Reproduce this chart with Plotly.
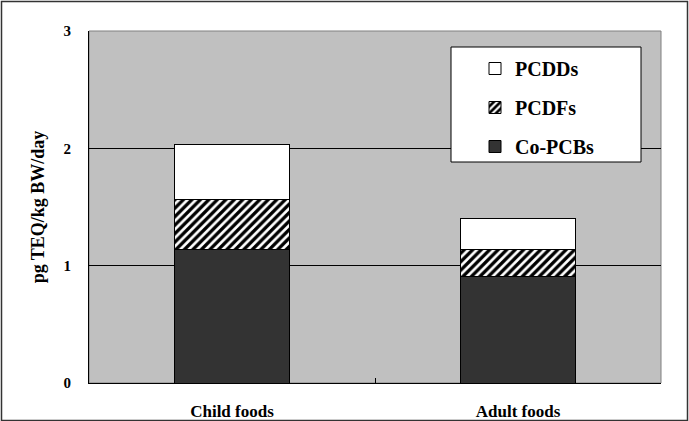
import plotly.graph_objects as go

categories = ["Child foods", "Adult foods"]
co_pcbs = [1.14, 0.91]
pcdfs = [0.42, 0.23]
pcdds = [0.47, 0.26]
y_ticks = [0, 1, 2, 3]

FONT = "Liberation Serif"
L, R, T, B = 89, 28, 31, 38
W, H = 689, 421
PW, PH = W - L - R, H - T - B

def px_x(p):
    return (p - L) / PW

def px_y(p):
    return (H - B - p) / PH

fig = go.Figure()
fig.add_trace(go.Bar(
    x=categories, y=co_pcbs, name="Co-PCBs", legendgroup="c", legendrank=3,
    marker=dict(color="#333333", line=dict(color="black", width=1)),
))
fig.add_trace(go.Bar(
    x=categories, y=pcdfs, name="PCDFs", legendgroup="b", legendrank=2,
    marker=dict(color="white", line=dict(color="black", width=1),
                pattern=dict(shape="/", fgcolor="#000000", fgopacity=1,
                             bgcolor="white", size=6, solidity=0.55)),
))
fig.add_trace(go.Bar(
    x=categories, y=pcdds, name="PCDDs", legendgroup="a", legendrank=1,
    marker=dict(color="white", line=dict(color="black", width=1)),
))

shapes = [
    # outer frame
    dict(type="rect", xref="paper", yref="paper",
         x0=px_x(1.5), x1=px_x(687.5), y0=px_y(420.5), y1=px_y(1.5),
         line=dict(color="#333333", width=1.5), layer="below"),
    # plot area border
    dict(type="rect", xref="paper", yref="paper",
         x0=0, x1=1, y0=0, y1=1,
         line=dict(color="#808080", width=1), layer="below"),
    # legend box
    dict(type="rect", xref="paper", yref="paper",
         x0=px_x(451), x1=px_x(641), y0=px_y(162), y1=px_y(47),
         fillcolor="white", line=dict(color="black", width=1), layer="above"),
]

fig.update_layout(
    width=W, height=H,
    margin=dict(l=L, r=R, t=T, b=B),
    paper_bgcolor="white",
    plot_bgcolor="#c0c0c0",
    barmode="stack",
    bargap=0.595,
    font=dict(family=FONT, color="black"),
    shapes=shapes,
    showlegend=True,
    legend=dict(
        x=px_x(475), y=px_y(49), xanchor="left", yanchor="top",
        bgcolor="rgba(0,0,0,0)", borderwidth=0,
        font=dict(family=FONT, size=20, color="black", weight="bold"),
        traceorder="grouped", tracegroupgap=10,
    ),
    xaxis=dict(
        automargin=False,
        showline=True, linecolor="black", linewidth=1,
        ticks="inside", tickson="boundaries", ticklen=5, tickcolor="black",
        tickfont=dict(family=FONT, size=17, weight="bold"),
        ticklabelstandoff=13,
        showgrid=False,
    ),
    yaxis=dict(
        automargin=False,
        range=[0, 3], tickvals=y_ticks,
        showline=True, linecolor="black", linewidth=1,
        showgrid=True, gridcolor="black", gridwidth=1,
        zeroline=False,
        ticks="", ticklabelstandoff=14,
        tickfont=dict(family=FONT, size=15, weight="bold"),
        title=dict(text="pg TEQ/kg BW/day", standoff=14,
                   font=dict(family=FONT, size=18, weight="bold")),
    ),
)

fig.write_html("out.html")
